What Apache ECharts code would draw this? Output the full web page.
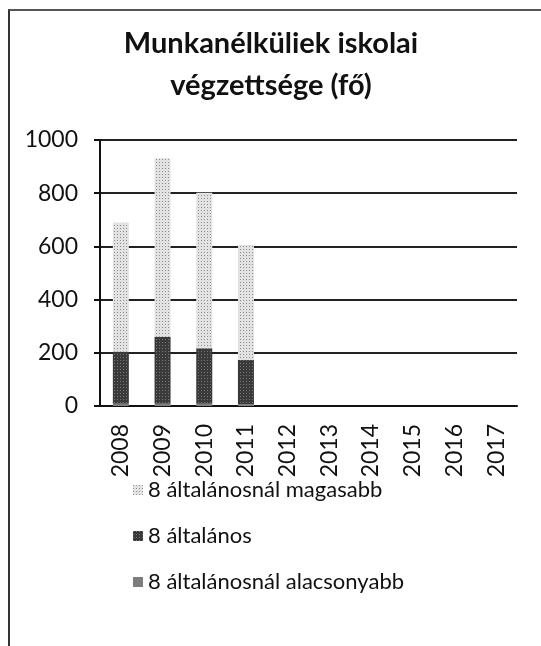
<!DOCTYPE html>
<html>
<head>
<meta charset="utf-8">
<script src="https://cdn.jsdelivr.net/npm/echarts@6/dist/echarts.min.js"></script>
<style>
  body { margin: 0; background: #fff; }
  #frame { position: absolute; left: 8px; top: 9px; width: 600px; height: 700px;
           border-left: 2px solid #333; border-top: 2px solid #555; }
  #grafico { position: absolute; left: 0; top: 0; width: 541px; height: 646px; }
</style>
</head>
<body>
<div id="frame"></div>
<div id="grafico"></div>
<script>
// adatok
var years = ['2008', '2009', '2010', '2011', '2012', '2013', '2014', '2015', '2016', '2017'];
var alacsonyabb = [8, 8, 8, 6, null, null, null, null, null, null];
var altalanos = [196, 252, 209, 167, null, null, null, null, null, null];
var magasabb = [485, 671, 585, 432, null, null, null, null, null, null];
var yTicks = [0, 200, 400, 600, 800, 1000];

var dom = document.getElementById('grafico');
var myChart = echarts.init(dom, null, { renderer: 'canvas' });
var option;

var fnt = 'Lato';

option = {
  backgroundColor: 'transparent',
  animation: false,
  title: {
    text: 'Munkanélküliek iskolai\nvégzettsége (fő)',
    left: 266,
    textAlign: 'center',
    top: 18,
    textStyle: {
      fontFamily: fnt,
      fontWeight: 'bold',
      fontSize: 29,
      lineHeight: 42,
      color: '#111',
    },
  },
  legend: {
    orient: 'vertical',
    left: 128,
    top: 474,
    itemGap: 24,
    itemWidth: 10,
    itemHeight: 10,
    icon: 'rect',
    data: ['8 általánosnál magasabb', '8 általános', '8 általánosnál alacsonyabb'],
    textStyle: { fontFamily: fnt, fontSize: 22, color: '#111' },
  },
  grid: { left: 100, right: 24, top: 140, bottom: 240 },
  xAxis: {
    type: 'category',
    data: years,
    axisLine: { lineStyle: { color: '#111', width: 2 } },
    axisTick: { length: 6, lineStyle: { color: '#111', width: 2 } },
    axisLabel: {
      rotate: 90,
      margin: 18,
      fontFamily: fnt,
      fontSize: 23,
      color: '#111',
    },
  },
  yAxis: {
    type: 'value',
    min: yTicks[0],
    max: yTicks[yTicks.length - 1],
    interval: 200,
    axisLine: { show: true, lineStyle: { color: '#111', width: 2 } },
    axisTick: { show: true, length: 6, lineStyle: { color: '#111', width: 2 } },
    axisLabel: {
      margin: 22,
      fontFamily: fnt,
      fontSize: 23,
      color: '#111',
      formatter: function (v) { return String(v); },
    },
    splitLine: { lineStyle: { color: '#222', width: 2 } },
  },
  series: [
    {
      name: '8 általánosnál alacsonyabb',
      type: 'bar',
      stack: 'a',
      barWidth: 16,
      data: alacsonyabb,
      itemStyle: { color: '#7d7d7d' },
    },
    {
      name: '8 általános',
      type: 'bar',
      stack: 'a',
      barWidth: 16,
      data: altalanos,
      itemStyle: {
        color: '#3a3a3a',
        decal: { symbol: 'rect', symbolSize: 1, dashArrayX: [1, 2], dashArrayY: [1, 2], color: 'rgba(160,160,160,0.6)' },
      },
    },
    {
      name: '8 általánosnál magasabb',
      type: 'bar',
      stack: 'a',
      barWidth: 16,
      data: magasabb,
      itemStyle: {
        color: '#e2e2e2',
        decal: { symbol: 'rect', symbolSize: 1, dashArrayX: [1, 2], dashArrayY: [1, 2], color: 'rgba(110,110,110,0.7)' },
      },
    },
  ],
};

if (option && typeof option === 'object') {
  myChart.setOption(option);
}

window.addEventListener('resize', myChart.resize);
</script>
</body>
</html>
